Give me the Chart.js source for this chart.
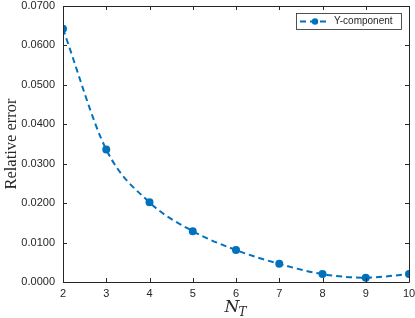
<!DOCTYPE html>
<html><head>
<meta charset="utf-8">
<script src="https://cdn.jsdelivr.net/npm/chart.js"></script>
<style>html,body{margin:0;padding:0;background:#fff}canvas{display:block}</style>
</head><body>
<canvas id="c" width="415" height="318"></canvas>
<script>
const nT = [2, 3, 4, 5, 6, 7, 8, 9, 10];
const yErr = [0.0642, 0.0336, 0.0202, 0.0129, 0.0081, 0.0046, 0.0020, 0.0011, 0.0020];
const seriesLabel = 'Y-component';
const yTitle = 'Relative error';
const xTitleMain = 'N';
const xTitleSub = 'T';

const BLUE = '#0072BD';
const AX = '#262626';

const framePlugin = {
  id: 'frame',
  afterDraw(chart) {
    const ctx = chart.ctx, a = chart.chartArea;
    const xs = chart.scales.x, ys = chart.scales.y;
    ctx.save();
    ctx.strokeStyle = AX;
    ctx.lineWidth = 1;
    ctx.beginPath();
    ctx.rect(Math.round(a.left) + 0.5, Math.round(a.top) + 0.5, Math.round(a.right - a.left), Math.round(a.bottom - a.top));
    ctx.stroke();
    const tl = 4;
    ctx.beginPath();
    xs.ticks.forEach(t => {
      const px = Math.round(xs.getPixelForValue(t.value)) + 0.5;
      ctx.moveTo(px, a.bottom); ctx.lineTo(px, a.bottom - tl);
      ctx.moveTo(px, a.top); ctx.lineTo(px, a.top + tl);
    });
    ys.ticks.forEach(t => {
      const py = Math.round(ys.getPixelForValue(t.value)) + 0.5;
      ctx.moveTo(a.left, py); ctx.lineTo(a.left + tl, py);
      ctx.moveTo(a.right, py); ctx.lineTo(a.right - tl, py);
    });
    ctx.stroke();

    // x title N_T
    ctx.fillStyle = AX;
    ctx.textBaseline = 'alphabetic';
    ctx.font = 'italic 17px "DejaVu Serif", "Liberation Serif", serif';
    const cx = (a.left + a.right) / 2;
    const wN = ctx.measureText(xTitleMain).width;
    ctx.font = 'italic 12px "DejaVu Serif", "Liberation Serif", serif';
    const wT = ctx.measureText(xTitleSub).width;
    const x0 = cx - (wN + wT) / 2;
    ctx.font = 'italic 17px "DejaVu Serif", "Liberation Serif", serif';
    ctx.textAlign = 'left';
    ctx.fillText(xTitleMain, x0, 312);
    ctx.font = 'italic 12px "DejaVu Serif", "Liberation Serif", serif';
    ctx.fillText(xTitleSub, x0 + wN - 1, 316);

    // legend
    const ds = chart.data.datasets[0];
    const lx = 296, ly = 13, lw = 105, lh = 16;
    ctx.fillStyle = '#fff';
    ctx.fillRect(lx, ly, lw, lh);
    ctx.strokeStyle = AX;
    ctx.lineWidth = 0.8;
    ctx.strokeRect(lx + 0.5, ly + 0.5, lw, lh);
    const my = ly + lh / 2 + 0.5;
    ctx.strokeStyle = ds.borderColor;
    ctx.lineWidth = 2;
    ctx.setLineDash(ds.borderDash);
    ctx.beginPath();
    ctx.moveTo(lx + 4, my); ctx.lineTo(lx + 34, my);
    ctx.stroke();
    ctx.setLineDash([]);
    ctx.fillStyle = ds.pointBackgroundColor;
    ctx.beginPath();
    ctx.arc(lx + 19, my, 3.2, 0, Math.PI * 2);
    ctx.fill();
    ctx.fillStyle = AX;
    ctx.font = '10px "Liberation Sans", Arial, sans-serif';
    ctx.textBaseline = 'middle';
    ctx.fillText(ds.label, lx + 38, my);
    ctx.restore();
  }
};

new Chart(document.getElementById('c'), {
  type: 'line',
  data: {
    datasets: [{
      label: seriesLabel,
      data: nT.map((x, i) => ({ x: x, y: yErr[i] })),
      borderColor: BLUE,
      backgroundColor: BLUE,
      pointBackgroundColor: BLUE,
      pointBorderColor: BLUE,
      pointRadius: 3,
      borderWidth: 2,
      borderDash: [6, 4],
      cubicInterpolationMode: 'monotone',
      fill: false
    }]
  },
  options: {
    responsive: false,
    animation: false,
    devicePixelRatio: 1,
    layout: { padding: { top: 5, right: 5, left: 2, bottom: 0 } },
    plugins: { legend: { display: false }, tooltip: { enabled: false } },
    scales: {
      x: {
        type: 'linear', min: 2, max: 10,
        grid: { display: false, drawTicks: false },
        border: { display: false },
        ticks: { stepSize: 1, color: AX, padding: 5, font: { size: 11, family: '"Liberation Sans", Arial, sans-serif' } },
        afterFit(s) { s.height = 36; s.paddingLeft = 0; s.paddingRight = 0; }
      },
      y: {
        min: 0, max: 0.07,
        grid: { display: false, drawTicks: false },
        border: { display: false },
        title: { display: true, text: yTitle, color: AX, padding: 0, font: { size: 16.5, family: '"Liberation Serif", "DejaVu Serif", serif' } },
        ticks: { stepSize: 0.01, color: AX, padding: 8, font: { size: 11, family: '"Liberation Sans", Arial, sans-serif' },
          callback: v => v.toFixed(4) },
        afterFit(s) { s.width = 61; s.paddingTop = 0; s.paddingBottom = 0; }
      }
    }
  },
  plugins: [framePlugin]
});
</script>
</body></html>
